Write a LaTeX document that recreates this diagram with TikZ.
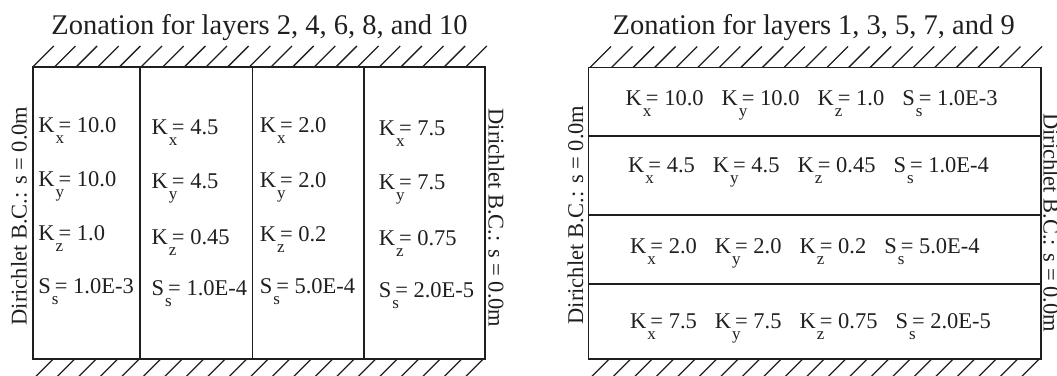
\documentclass[tikz,border=0pt]{standalone}
\usepackage{fontspec}
\setmainfont{Liberation Serif}
\newcommand{\zsub}[1]{\kern1pt\rlap{\raisebox{-11pt}{\fontsize{17}{17}\selectfont #1}}\kern3pt}
\newcommand{\zgap}{\hspace{18pt}}
\begin{document}
\begin{tikzpicture}[x=1pt,y=-1pt,
  ink/.style={draw=black!88},
  box/.style={ink,line width=1.8pt},
  hatch/.style={ink,line width=1.3pt},
  title/.style={font=\fontsize{28.5}{30}\selectfont, anchor=base, inner sep=0pt, text=black!88},
  val/.style={font=\fontsize{22.5}{24}\selectfont, anchor=base west, inner sep=0pt, text=black!88},
  bc/.style={font=\fontsize{22.5}{24}\selectfont, anchor=base, inner sep=0pt, text=black!88}]
\useasboundingbox (0,0) rectangle (1057,375);
% titles
\node[title] (t1) at (259.5,34) {Zonation for layers 2, 4, 6, 8, and 10};
\node[title] (t2) at (813.7,34) {Zonation for layers 1, 3, 5, 7, and 9};
% left box
\draw[box] (32.8,67) rectangle (485,359);
\foreach \x in {139.6,252.5,364.1} \draw[box] (\x,67) -- (\x,359);
\foreach \i in {0,...,20} \draw[hatch] ({32.8+\i*21.65},67) -- ++(21,-21);
\foreach \i in {0,...,20} \draw[hatch] ({53.3+\i*21.5},359) -- ++(-19,19);
% right box
\draw[box] (588.5,67.5) rectangle (1041,359.3);
\foreach \y in {135.8,214.6,284} \draw[box] (588.5,\y) -- (1041,\y);
\foreach \i in {0,...,20} \draw[hatch] ({590+\i*21.55},67.5) -- ++(21,-21);
\foreach \i in {0,...,20} \draw[hatch] ({609+\i*21.5},359.3) -- ++(-19,19);
% left panel values
\node[val] (a1) at (38.2,132.4) {K\zsub{x}= 10.0};
\node[val] (a2) at (38.2,186.5) {K\zsub{y}= 10.0};
\node[val] (a3) at (38.2,240.6) {K\zsub{z}= 1.0};
\node[val] (a4) at (38.2,293.8) {S\zsub{s}= 1.0E-3};
\node[val] (b1) at (151.5,134) {K\zsub{x}= 4.5};
\node[val] (b2) at (151.5,188.9) {K\zsub{y}= 4.5};
\node[val] (b3) at (151.5,244) {K\zsub{z}= 0.45};
\node[val] (b4) at (151.5,295.5) {S\zsub{s}= 1.0E-4};
\node[val] (c1) at (259.6,132.4) {K\zsub{x}= 2.0};
\node[val] (c2) at (259.6,187.5) {K\zsub{y}= 2.0};
\node[val] (c3) at (259.6,241.6) {K\zsub{z}= 0.2};
\node[val] (c4) at (259.6,293.8) {S\zsub{s}= 5.0E-4};
\node[val] (d1) at (378.6,135.8) {K\zsub{x}= 7.5};
\node[val] (d2) at (378.6,189.9) {K\zsub{y}= 7.5};
\node[val] (d3) at (378.6,245.6) {K\zsub{z}= 0.75};
\node[val] (d4) at (378.6,297) {S\zsub{s}= 2.0E-5};
% right panel rows
\node[val] (r1) at (625.5,105.7) {K\zsub{x}= 10.0\zgap K\zsub{y}= 10.0\zgap K\zsub{z}= 1.0\zgap S\zsub{s}= 1.0E-3};
\node[val] (r2) at (628,172.5) {K\zsub{x}= 4.5\zgap K\zsub{y}= 4.5\zgap K\zsub{z}= 0.45\zgap S\zsub{s}= 1.0E-4};
\node[val] (r3) at (630,253) {K\zsub{x}= 2.0\zgap K\zsub{y}= 2.0\zgap K\zsub{z}= 0.2\zgap S\zsub{s}= 5.0E-4};
\node[val] (r4) at (630,328.5) {K\zsub{x}= 7.5\zgap K\zsub{y}= 7.5\zgap K\zsub{z}= 0.75\zgap S\zsub{s}= 2.0E-5};
% boundary condition labels
\node[bc,rotate=90] (bl1) at (26.5,216) {Dirichlet B.C.: s = 0.0m};
\node[bc,rotate=-90] (br1) at (488.5,218) {Dirichlet B.C.: s = 0.0m};
\node[bc,rotate=90] (bl2) at (583,215) {Dirichlet B.C.: s = 0.0m};
\node[bc,rotate=-90] (br2) at (1043.5,222.5) {Dirichlet B.C.: s = 0.0m};
\end{tikzpicture}
\end{document}
